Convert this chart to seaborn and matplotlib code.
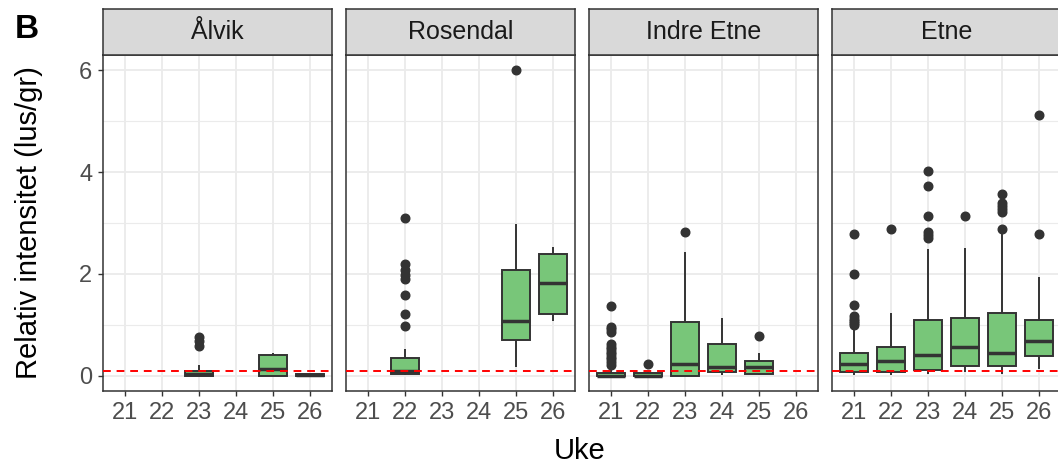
import pandas as pd
import matplotlib
matplotlib.use("Agg")
import matplotlib.pyplot as plt
import seaborn as sns

sites = ["Ålvik", "Rosendal", "Indre Etne", "Etne"]
weeks = ["21", "22", "23", "24", "25", "26"]
threshold = 0.1

# one entry per box
box_site = ["Ålvik", "Ålvik", "Ålvik",
            "Rosendal", "Rosendal", "Rosendal",
            "Indre Etne", "Indre Etne", "Indre Etne", "Indre Etne", "Indre Etne",
            "Etne", "Etne", "Etne", "Etne", "Etne", "Etne"]
box_week = ["23", "25", "26",
            "22", "25", "26",
            "21", "22", "23", "24", "25",
            "21", "22", "23", "24", "25", "26"]
whisk_lo = [0.0, 0.0, 0.0, 0.02, 0.18, 1.08, 0.0, 0.0, 0.0, 0.02, 0.02, 0.02, 0.01, 0.03, 0.07, 0.03, 0.13]
q1 = [0.0, 0.0, 0.0, 0.03, 0.70, 1.21, 0.0, 0.0, 0.0, 0.07, 0.03, 0.07, 0.08, 0.11, 0.19, 0.20, 0.38]
median = [0.03, 0.13, 0.01, 0.10, 1.08, 1.82, 0.0, 0.0, 0.23, 0.18, 0.18, 0.24, 0.29, 0.41, 0.57, 0.44, 0.69]
q3 = [0.09, 0.40, 0.03, 0.35, 2.07, 2.39, 0.05, 0.05, 1.05, 0.63, 0.28, 0.44, 0.56, 1.09, 1.13, 1.24, 1.09]
whisk_hi = [0.22, 0.44, 0.04, 0.52, 2.99, 2.52, 0.12, 0.08, 2.44, 1.14, 0.44, 0.90, 1.23, 2.48, 2.50, 2.78, 1.94]
outliers = [
    [0.58, 0.68, 0.77],
    [],
    [],
    [0.98, 1.22, 1.58, 1.90, 1.97, 2.08, 2.20, 3.10],
    [6.0],
    [],
    [0.22, 0.27, 0.32, 0.37, 0.42, 0.47, 0.52, 0.57, 0.62, 0.86, 0.91, 0.96, 1.37],
    [0.24],
    [2.82],
    [],
    [0.78],
    [1.00, 1.04, 1.08, 1.12, 1.17, 1.38, 2.00, 2.78],
    [2.89],
    [2.70, 2.76, 2.82, 3.14, 3.73, 4.03],
    [3.14],
    [2.89, 3.22, 3.28, 3.34, 3.40, 3.57],
    [2.78, 5.13],
]

# seaborn wants raw values, so build a sample per box that gives those stats
K = 40
rows = []
for s, w, lo, a, m, b, hi, out in zip(box_site, box_week, whisk_lo, q1, median, q3, whisk_hi, outliers):
    vals = [lo] + [a] * K + [m] * K + [b] * K + [hi] + out
    for v in vals:
        rows.append((s, w, v))
df = pd.DataFrame(rows, columns=["Sted", "Uke", "Intensitet"])

sns.set_style("white")
plt.rcParams["font.family"] = ["Liberation Sans", "DejaVu Sans"]

green = "#78C679"
dark = "#333333"
W, H = 1058, 466
fig = plt.figure(figsize=(W / 100, H / 100), dpi=100)

for i, site in enumerate(sites):
    left = 103 + 243 * i
    ax = fig.add_axes([left / W, (H - 391) / H, 229 / W, 336 / H])
    sub = df[df["Sted"] == site]
    sns.boxplot(data=sub, x="Uke", y="Intensitet", order=weeks, ax=ax,
                color=green, saturation=1, width=0.75, linecolor=dark,
                linewidth=1.4, showcaps=False, fliersize=6.2,
                flierprops=dict(marker="o", markerfacecolor=dark,
                                markeredgecolor=dark, markersize=6.2),
                medianprops=dict(linewidth=2.5, color=dark))
    ax.axhline(threshold, color="red", ls=(0, (4, 3)), lw=1.4, zorder=6)
    ax.set_xlim(-0.6, 5.6)
    ax.set_ylim(-0.3, 6.3)
    ax.set_yticks([0, 2, 4, 6])
    ax.set_yticks([1, 3, 5], minor=True)
    ax.set_axisbelow(True)
    ax.grid(True, which="major", color="#EBEBEB", lw=1.3)
    ax.grid(True, which="minor", axis="y", color="#EBEBEB", lw=0.8)
    ax.set_xlabel("")
    ax.set_ylabel("")
    for sp in ax.spines.values():
        sp.set_visible(True)
        sp.set_color(dark)
        sp.set_linewidth(1.1)
    ax.tick_params(axis="both", which="major", length=3.6, width=1.0, color=dark,
                   labelsize=17, labelcolor="#4D4D4D", pad=4)
    ax.tick_params(axis="y", which="minor", length=0)
    ax.tick_params(bottom=True, left=(i == 0), labelleft=(i == 0))

    sax = fig.add_axes([left / W, (H - 55) / H, 229 / W, 46 / H])
    sax.set_facecolor("#D9D9D9")
    sax.set_xticks([])
    sax.set_yticks([])
    for sp in sax.spines.values():
        sp.set_visible(True)
        sp.set_color(dark)
        sp.set_linewidth(1.1)
    sax.text(0.5, 0.5, site, ha="center", va="center", fontsize=18,
             color="#1A1A1A", transform=sax.transAxes)

fig.text(29 / W, (H - 223) / H, "Relativ intensitet (lus/gr)", rotation=90,
         ha="center", va="center", fontsize=21, color="black")
fig.text(580 / W, (H - 459) / H, "Uke", ha="center", va="baseline",
         fontsize=21, color="black")
fig.text(15 / W, (H - 38) / H, "B", ha="left", va="baseline",
         fontsize=24, fontweight="bold", color="black")

fig.savefig("out.png", dpi=100)
